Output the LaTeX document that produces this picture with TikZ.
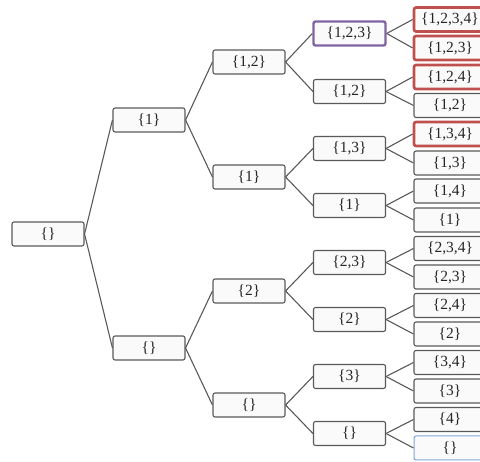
\documentclass[tikz,border=0pt]{standalone}
\usepackage{fontspec}
\setmainfont{Liberation Serif}
\begin{document}
\begin{tikzpicture}[x=1pt,y=-1pt,
  box/.style={draw=black!65,fill=black!2,rounded corners=2pt,line width=1.1pt,
    minimum width=72pt,minimum height=24pt,inner sep=0pt,
    font=\fontsize{15.5}{17}\selectfont,text=black!85},
  red/.style={line width=2.6pt,draw=redc},
  purp/.style={line width=2.4pt,draw=purpc},
  blu/.style={line width=1pt,draw=bluec},
  conn/.style={draw=black!65,line width=1.1pt}]
\definecolor{redc}{HTML}{C0504D}
\definecolor{purpc}{HTML}{8064A2}
\definecolor{bluec}{HTML}{7EA6D8}
\useasboundingbox (0,0) rectangle (480,462);
\clip (0,0) rectangle (480,462);
% root
\node[box] (r) at (48,234) {\{\}};
% level 1
\node[box] (a1) at (149,120) {\{1\}};
\node[box] (a0) at (149,348) {\{\}};
% level 2
\node[box] (b12) at (249,62) {\{1,2\}};
\node[box] (b1) at (249,177) {\{1\}};
\node[box] (b2) at (249,291) {\{2\}};
\node[box] (b0) at (249,405) {\{\}};
% level 3
\node[box,purp] (c123) at (349.5,33.5) {\{1,2,3\}};
\node[box] (c12) at (349.5,91.5) {\{1,2\}};
\node[box] (c13) at (349.5,148.5) {\{1,3\}};
\node[box] (c1) at (349.5,205.5) {\{1\}};
\node[box] (c23) at (349.5,262.5) {\{2,3\}};
\node[box] (c2) at (349.5,319.5) {\{2\}};
\node[box] (c3) at (349.5,376.5) {\{3\}};
\node[box] (c0) at (349.5,433.5) {\{\}};
% level 4
\node[box,red] (d1234) at (450,19.5) {\{1,2,3,4\}};
\node[box,red] (d123) at (450,48) {\{1,2,3\}};
\node[box,red] (d124) at (450,77) {\{1,2,4\}};
\node[box] (d12) at (450,105.5) {\{1,2\}};
\node[box,red] (d134) at (450,134) {\{1,3,4\}};
\node[box] (d13) at (450,163) {\{1,3\}};
\node[box] (d14) at (450,191) {\{1,4\}};
\node[box] (d1) at (450,220) {\{1\}};
\node[box] (d234) at (450,248.5) {\{2,3,4\}};
\node[box] (d23) at (450,277) {\{2,3\}};
\node[box] (d24) at (450,305.5) {\{2,4\}};
\node[box] (d2) at (450,334) {\{2\}};
\node[box] (d34) at (450,362.5) {\{3,4\}};
\node[box] (d3) at (450,391) {\{3\}};
\node[box] (d4) at (450,419.5) {\{4\}};
\node[box,blu] (d0) at (450,448) {\{\}};
% connectors
\foreach \p/\c in {r/a1,r/a0,a1/b12,a1/b1,a0/b2,a0/b0,
  b12/c123,b12/c12,b1/c13,b1/c1,b2/c23,b2/c2,b0/c3,b0/c0,
  c123/d1234,c123/d123,c12/d124,c12/d12,c13/d134,c13/d13,c1/d14,c1/d1,
  c23/d234,c23/d23,c2/d24,c2/d2,c3/d34,c3/d3,c0/d4,c0/d0}
  \draw[conn] (\p.east) -- (\c.west);
\end{tikzpicture}
\end{document}
